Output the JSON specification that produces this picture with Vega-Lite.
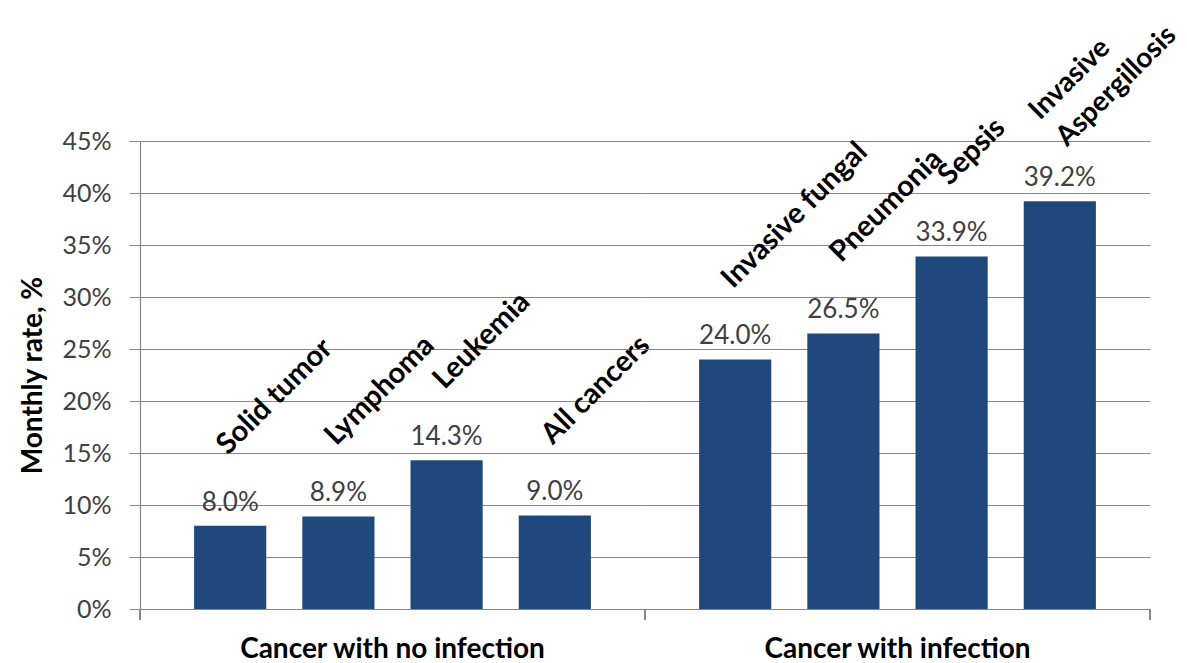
{
  "$schema": "https://vega.github.io/schema/vega-lite/v6.json",
  "padding": {"left": 19, "top": -6, "right": 0, "bottom": 0},
  "background": "white",
  "bounds": "flush",
  "data": {
    "values": [
      {"group": "Cancer with no infection", "category": "Solid tumor", "rate": 0.080},
      {"group": "Cancer with no infection", "category": "Lymphoma", "rate": 0.089},
      {"group": "Cancer with no infection", "category": "Leukemia", "rate": 0.143},
      {"group": "Cancer with no infection", "category": "All cancers", "rate": 0.090},
      {"group": "Cancer with infection", "category": "Invasive fungal", "rate": 0.240},
      {"group": "Cancer with infection", "category": "Pneumonia", "rate": 0.265},
      {"group": "Cancer with infection", "category": "Sepsis", "rate": 0.339},
      {"group": "Cancer with infection", "category": "Invasive\nAspergillosis", "rate": 0.392}
    ]
  },
  "facet": {
    "column": {
      "field": "group",
      "type": "nominal",
      "sort": ["Cancer with no infection", "Cancer with infection"],
      "header": {
        "title": null,
        "labelOrient": "bottom",
        "labelFont": "Lato",
        "labelFontSize": 28,
        "labelFontWeight": "bold",
        "labelColor": "#000000",
        "labelPadding": 27
      }
    }
  },
  "spacing": 0,
  "resolve": {"scale": {"x": "independent"}},
  "spec": {
    "width": 505,
    "height": 468,
    "encoding": {
      "x": {
        "field": "category",
        "type": "nominal",
        "sort": null,
        "scale": {"paddingInner": 0.333, "paddingOuter": 0.5},
        "axis": {"labels": false, "ticks": false, "title": null, "domainColor": "#868686", "domainWidth": 1.2}
      },
      "y": {
        "field": "rate",
        "type": "quantitative",
        "scale": {"domain": [0, 0.45], "nice": false},
        "axis": {
          "values": [0, 0.05, 0.1, 0.15, 0.2, 0.25, 0.3, 0.35, 0.4, 0.45],
          "format": ".0%",
          "title": "Monthly rate, %",
          "titleFont": "Lato",
          "titleFontSize": 28,
          "titleFontWeight": "bold",
          "titleColor": "#000000",
          "titlePadding": 14,
          "labelFont": "Lato",
          "labelFontSize": 25,
          "labelColor": "#404040",
          "labelPadding": 18,
          "tickSize": 11,
          "tickColor": "#868686",
          "domainColor": "#868686",
          "domainWidth": 1.2,
          "grid": true,
          "gridColor": "#868686",
          "gridWidth": 1.2
        }
      }
    },
    "layer": [
      {"mark": {"type": "bar", "color": "#1F497D"}},
      {
        "mark": {"type": "text", "baseline": "alphabetic", "dy": -15, "font": "Lato", "fontSize": 26, "color": "#404040"},
        "encoding": {"text": {"field": "rate", "format": ".1%"}}
      },
      {
        "transform": [{"filter": "indexof(datum.category, '\\n') < 0"}],
        "mark": {"type": "text", "angle": -45, "align": "left", "baseline": "middle", "dx": 48, "dy": -60, "font": "Lato", "fontSize": 29, "fontWeight": "bold", "color": "#000000"},
        "encoding": {"text": {"field": "category"}}
      },
      {
        "transform": [{"filter": "indexof(datum.category, '\\n') >= 0"}],
        "mark": {"type": "text", "angle": -45, "align": "left", "baseline": "middle", "dx": 43, "dy": -79, "font": "Lato", "fontSize": 28, "fontWeight": "bold", "lineBreak": "\n", "lineHeight": 38, "color": "#000000"},
        "encoding": {"text": {"field": "category"}}
      },
      {
        "mark": {"type": "rule", "color": "#868686", "strokeWidth": 1.2},
        "encoding": {
          "x": {"value": 0},
          "y": {"value": {"expr": "child_height"}},
          "y2": {"value": {"expr": "child_height + 11"}}
        }
      },
      {
        "transform": [{"filter": "datum.group === 'Cancer with infection'"}],
        "mark": {"type": "rule", "color": "#868686", "strokeWidth": 1.2},
        "encoding": {
          "x": {"value": {"expr": "child_width"}},
          "y": {"value": {"expr": "child_height"}},
          "y2": {"value": {"expr": "child_height + 11"}}
        }
      }
    ]
  },
  "config": {"view": {"stroke": null}}
}
